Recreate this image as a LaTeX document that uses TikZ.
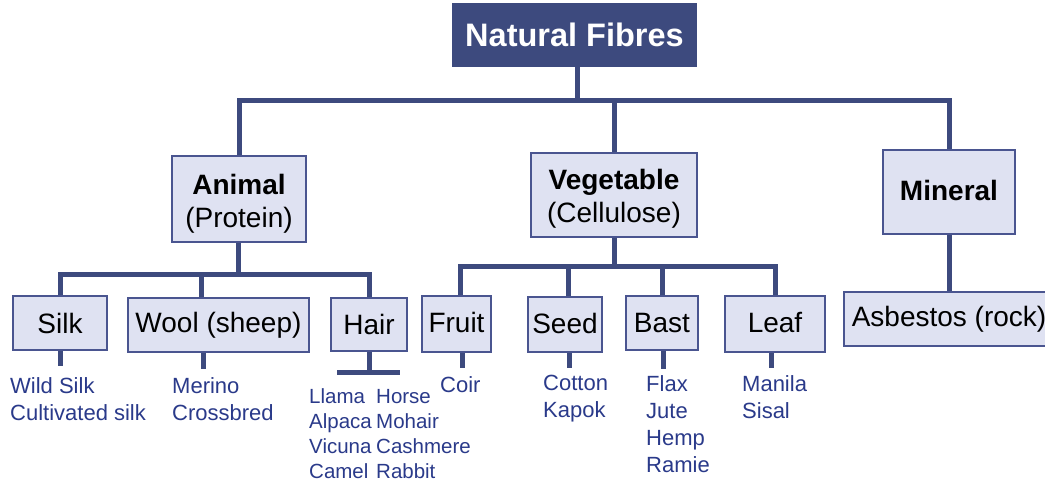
\documentclass[tikz,border=0pt]{standalone}
\usepackage{fontspec}
\setmainfont{Liberation Sans}
\definecolor{navy}{HTML}{3D4A7E}
\definecolor{boxfill}{HTML}{DFE2F2}
\definecolor{boxline}{HTML}{4A5590}
\definecolor{leaftext}{HTML}{2A3A8A}
\newcommand{\shiftdn}[2]{\raisebox{-#1}[\height][\depth]{#2}}
\begin{document}
\begin{tikzpicture}[x=1pt,y=-1pt,
  topbox/.style={fill=navy,draw=none,text=white,font=\fontsize{32.5}{34}\selectfont\bfseries,minimum width=245pt,minimum height=64pt,inner sep=0pt},
  catbox/.style={fill=boxfill,draw=boxline,line width=1.5pt,text=black,font=\fontsize{28}{33}\selectfont,align=center,inner sep=0pt},
  subbox/.style={fill=boxfill,draw=boxline,line width=1.5pt,text=black,font=\fontsize{28}{33}\selectfont,inner sep=0pt},
  conn/.style={draw=navy,line width=5pt},
  leaf/.style={text=leaftext,font=\fontsize{22}{27}\selectfont,align=left,anchor=north west,inner sep=0pt},
  hleaf/.style={text=leaftext,font=\fontsize{20.5}{25}\selectfont,align=left,anchor=north west,inner sep=0pt}]
\useasboundingbox (0,0) rectangle (1045,481);
\fill[white] (0,0) rectangle (1045,481);

% top
\node[topbox] (nf) at (574.5,35) {Natural Fibres};

% categories
\node[catbox,minimum width=134pt,minimum height=86pt] (animal) at (239,199) {\shiftdn{5pt}{\textbf{Animal}}\\\shiftdn{5pt}{(Protein)}};
\node[catbox,minimum width=166pt,minimum height=84pt] (veg) at (614,195) {\shiftdn{3.5pt}{\textbf{Vegetable}}\\\shiftdn{3.5pt}{(Cellulose)}};
\node[catbox,minimum width=132pt,minimum height=84pt] (mineral) at (949,192) {\shiftdn{-2pt}{\textbf{Mineral}}};

% sub boxes
\node[subbox,minimum width=94pt,minimum height=54pt] (silk) at (60,323) {Silk};
\node[subbox,minimum width=181pt,minimum height=54pt] (wool) at (218.5,325) {Wool (sheep)};
\node[subbox,minimum width=76pt,minimum height=53pt] (hair) at (369,324.5) {Hair};
\node[subbox,minimum width=69pt,minimum height=56pt] (fruit) at (456.5,324) {\shiftdn{-1.5pt}{Fruit}};
\node[subbox,minimum width=74pt,minimum height=55pt] (seed) at (565,324.5) {\shiftdn{-1pt}{Seed}};
\node[subbox,minimum width=72pt,minimum height=54pt] (bast) at (662,323) {Bast};
\node[subbox,minimum width=100pt,minimum height=56pt] (leafb) at (775,324) {\shiftdn{-1.5pt}{Leaf}};
\node[subbox,minimum width=210pt,minimum height=54pt] (asb) at (949,319) {Asbestos (rock)};

% bus coordinates
\coordinate (b1) at (577,101);
\coordinate (b2) at (238,275);
\coordinate (b3) at (614,267);
\coordinate (wx) at (201,0);
\coordinate (fx) at (460,0);
\coordinate (sx) at (568,0);

% level 1 connectors
\draw[conn] (nf.south -| b1) -- (b1);
\draw[conn] (animal.north) |- (b1) -| (mineral.north);
\draw[conn] (veg.north) -- (veg.north |- b1);

% animal connectors
\draw[conn] (animal.south -| b2) -- (b2);
\draw[conn] (silk.north) |- (b2) -| (hair.north);
\draw[conn] (wool.north -| wx) -- (wx |- b2);

% vegetable connectors
\draw[conn] (veg.south) -- (b3);
\draw[conn] (fruit.north -| fx) |- (b3) -| (leafb.north);
\draw[conn] (seed.north -| sx) -- (sx |- b3);
\draw[conn] (bast.north) -- (bast.north |- b3);

% mineral
\draw[conn] (mineral.south) -- (asb.north);

% leaf texts (y = top of first line)
\node[leaf] (tsilk) at (10,377) {Wild Silk\\Cultivated silk};
\node[leaf] (twool) at (172,377) {Merino\\Crossbred};
\node[hleaf] (thair1) at (309,388) {Llama\\Alpaca\\Vicuna\\Camel};
\node[hleaf] (thair2) at (376,389) {Horse\\Mohair\\Cashmere\\Rabbit};
\node[leaf] (tfruit) at (440,376) {Coir};
\node[leaf] (tseed) at (543,375) {Cotton\\Kapok};
\node[leaf] (tbast) at (646,375) {Flax\\Jute\\Hemp\\Ramie};
\node[leaf] (tleaf) at (742,375) {Manila\\Sisal};

% stubs
\coordinate (hbar) at (368,372);
\draw[conn] (silk.south) -- ++(0,15);
\draw[conn] (wool.south -| 203,0) -- ++(0,16);
\draw[conn] (hair.south) -- (hair.south |- hbar);
\draw[conn] ([xshift=-31pt]hbar) -- ([xshift=32pt]hbar);
\draw[conn] (fruit.south -| 462,0) -- ++(0,15);
\draw[conn] (seed.south -| 569,0) -- ++(0,15);
\draw[conn] (bast.south -| 663,0) -- ++(0,18);
\draw[conn] (leafb.south -| 771,0) -- ++(0,15);
\end{tikzpicture}
\end{document}
